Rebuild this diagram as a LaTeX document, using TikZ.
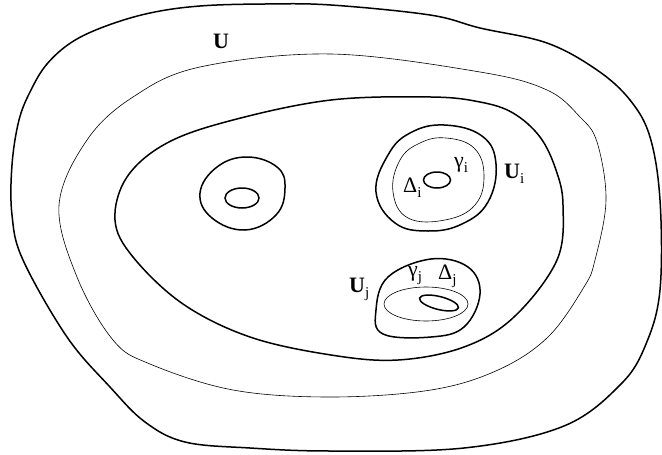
\documentclass[tikz,border=0pt]{standalone}
\usepackage{fontspec}
\setmainfont{Liberation Serif}
\newcommand{\sbs}[1]{\raisebox{-5pt}{\fontsize{15}{15}\selectfont #1}}
\begin{document}
\begin{tikzpicture}[x=1pt,y=-1pt,
  thick line/.style={line width=1.5pt},
  thin line/.style={line width=0.6pt},
  lbl/.style={inner sep=0pt,anchor=base west,font=\fontsize{22}{24}\selectfont}]
\useasboundingbox (0,0) rectangle (662,455);
% outer
\draw[thick line] plot[smooth cycle,tension=0.6] coordinates {(331,5) (430,15) (480,28) (547,43) (597,70) (630,100) (650,137) (660,200) (660,290) (646,344) (621,384) (564,426) (464,448) (331,451) (250,448) (185,442) (145,422) (110,387) (67,337) (23,260) (12,215) (12,165) (19,120) (31,90) (47,64) (72,42) (106,26) (150,13) (200,6) (265,4)};
% middle thin
\draw[thin line] plot[smooth cycle,tension=0.6] coordinates {(331,54) (480,72) (547,90) (580,117) (597,142) (606,200) (595,260) (584,287) (548,337) (498,370) (431,390) (331,397) (233,390) (150,364) (113,340) (77,277) (59,205) (87,140) (133,97) (200,67)};
% inner thick
\draw[thick line] plot[smooth cycle,tension=0.6] coordinates {(331,100) (431,97) (480,102) (513,113) (540,137) (556,170) (563,205) (557,260) (514,317) (464,347) (398,360) (331,355) (250,337) (183,304) (133,257) (115,220) (127,177) (167,143) (233,120)};
% left small shape
\draw[thick line] plot[smooth cycle,tension=0.7] coordinates {(247,157) (277,167) (285,188) (276,215) (245,230) (212,218) (200,193) (217,167)};
\draw[thick line] (242,198) ellipse [x radius=17,y radius=10];
% U_i region
\draw[thick line] plot[smooth cycle,tension=0.7] coordinates {(444,125) (482,136) (496,164) (488,202) (462,224) (428,231) (395,223) (376,192) (388,155) (410,133)};
\draw[thin line] plot[smooth cycle,tension=0.7] coordinates {(446,138) (474,148) (484,175) (475,205) (445,220) (408,218) (393,192) (400,160) (420,143)};
\draw[thick line] (437,180) ellipse [x radius=13.5,y radius=8];
% U_j region
\draw[thick line] plot[smooth cycle,tension=0.65] coordinates {(431,259) (468,267) (480,294) (464,327) (431,337) (383,334) (376,310) (388,277)};
\draw[thin line] (426,304) ellipse [x radius=42,y radius=17];
\draw[thick line, rotate around={-14:(439,303)}] (439,303) ellipse [x radius=20,y radius=6.5];
% labels
\node[lbl] (U) at (213,48) {\textbf{U}};
\node[lbl] (Ui) at (504,178) {\textbf{U}\sbs{i}};
\node[lbl] (Di) at (403,192) {Δ\sbs{i}};
\node[lbl] (gi) at (454,167) {γ\sbs{i}};
\node[lbl] (Uj) at (349,292) {\textbf{U}\sbs{j}};
\node[lbl] (gj) at (408,276) {γ\sbs{j}};
\node[lbl] (Dj) at (438,279) {Δ\sbs{j}};
\end{tikzpicture}
\end{document}
